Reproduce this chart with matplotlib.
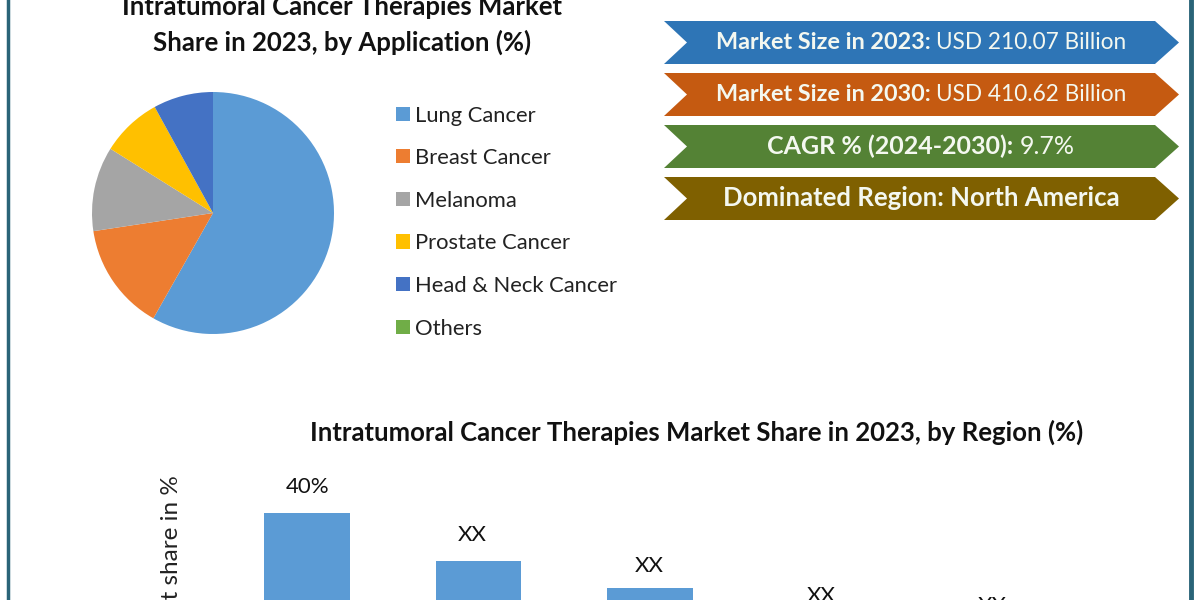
import matplotlib
matplotlib.use("Agg")
import matplotlib.pyplot as plt
from matplotlib.patches import Polygon

plt.rcParams["font.family"] = ["Lato", "DejaVu Sans"]

# datos de la torta
aplicaciones = ["Lung Cancer", "Breast Cancer", "Melanoma", "Prostate Cancer", "Head & Neck Cancer", "Others"]
participacion = [58.2, 14.4, 11.3, 8.1, 8.0, 0.0]
colores_torta = ["#5b9bd5", "#ed7d31", "#a5a5a5", "#ffc000", "#4472c4", "#70ad47"]

# datos de las barras (solo 40% es legible, el resto se estima por la altura)
regiones = ["North America", "Europe", "Asia Pacific", "Middle East and Africa", "South America"]
valores_region = [40, 29, 23, 15.5, 13.4]
etiquetas_region = ["40%", "XX", "XX", "XX", "XX"]
# las etiquetas no estan todas a la misma distancia de su barra
etiqueta_dx = [0, -0.035, 0, 0, 0]
etiqueta_dy = [3.7, 3.7, 2.7, 3.3, 3.3]

# banners de arriba a la derecha
banner_negrita = ["Market Size in 2023:", "Market Size in 2030:", "CAGR % (2024-2030):", "Dominated Region: North America"]
banner_normal = ["USD 210.07 Billion", "USD 410.62 Billion", "9.7%", ""]
banner_colores = ["#2e75b6", "#c55a11", "#548235", "#7f6000"]
banner_tops = [21, 73, 125, 177]
banner_size_negrita = [16.8, 16.8, 18, 18.5]
banner_size_normal = [16.3, 16.3, 18, 16]

W = 1200
H = 600


def caja(x0, y_top, x1, y_bottom):
    # pasa pixeles de la imagen a coordenadas de figura
    return [x0 / W, 1 - y_bottom / H, (x1 - x0) / W, (y_bottom - y_top) / H]


fig = plt.figure(figsize=(12, 6), dpi=100, facecolor="white")

fondo = fig.add_axes([0, 0, 1, 1])
fondo.set_xlim(0, W)
fondo.set_ylim(H, 0)
fondo.axis("off")

# marco
fondo.plot([7.5, 7.5], [0, H], color="#2a6478", lw=2.5)
fondo.plot([1191, 1191], [0, H], color="#2a6478", lw=3.5)

# titulos
fondo.text(342, 7, "Intratumoral Cancer Therapies Market", ha="center", va="center",
           fontsize=18.5, fontweight="bold", color="#111111")
fondo.text(342, 42, "Share in 2023, by Application (%)", ha="center", va="center",
           fontsize=18.5, fontweight="bold", color="#111111")
fondo.text(697, 432, "Intratumoral Cancer Therapies Market Share in 2023, by Region (%)", ha="center", va="center",
           fontsize=18.5, fontweight="bold", color="#111111")

# torta
ax_torta = fig.add_axes(caja(92, 92, 334, 334))
cunas, _ = ax_torta.pie(participacion, colors=colores_torta, startangle=90, counterclock=False, radius=1)
ax_torta.set_xlim(-1, 1)
ax_torta.set_ylim(-1, 1)

fondo.legend(cunas, aplicaciones, loc="upper left", bbox_to_anchor=(396 / W, 1 - 105.5 / H),
             bbox_transform=fig.transFigure, frameon=False, fontsize=15.8, labelcolor="#222222",
             handlelength=0.62, handleheight=0.62, handletextpad=0.25, labelspacing=1.03, borderpad=0, borderaxespad=0)

# barras, la base queda fuera de la imagen
ax_barras = fig.add_axes(caja(221.5, 469, 1078, 689))
ax_barras.bar(range(len(regiones)), valores_region, width=0.5, color="#5b9bd5")
for i in range(len(regiones)):
    ax_barras.text(i + etiqueta_dx[i], valores_region[i] + etiqueta_dy[i], etiquetas_region[i],
                   ha="center", va="bottom", fontsize=16, color="#111111")
ax_barras.set_xlim(-0.5, 4.5)
ax_barras.set_ylim(0, 50)
ax_barras.axis("off")

fondo.text(171, 475, "Market share in %", rotation=90, ha="center", va="top",
           fontsize=17.5, color="#222222")

# banners
fig.canvas.draw()
render = fig.canvas.get_renderer()
for i in range(len(banner_tops)):
    top = banner_tops[i]
    bottom = top + 43
    medio = top + 21.5
    fondo.add_patch(Polygon([(664, top), (1155, top), (1179, medio), (1155, bottom), (664, bottom), (687, medio)],
                            closed=True, facecolor=banner_colores[i], edgecolor="none"))
    t1 = fondo.text(0, medio, banner_negrita[i], ha="left", va="center", fontsize=banner_size_negrita[i],
                    fontweight="bold", color="#f4f8f0")
    t2 = fondo.text(0, medio, banner_normal[i], ha="left", va="center", fontsize=banner_size_normal[i], color="#f4f8f0")
    ancho1 = t1.get_window_extent(render).width
    ancho2 = t2.get_window_extent(render).width if banner_normal[i] else 0
    hueco = 6 if banner_normal[i] else 0
    inicio = 921 - (ancho1 + hueco + ancho2) / 2
    t1.set_x(inicio)
    t2.set_x(inicio + ancho1 + hueco)

fig.savefig("out.png", dpi=100)
